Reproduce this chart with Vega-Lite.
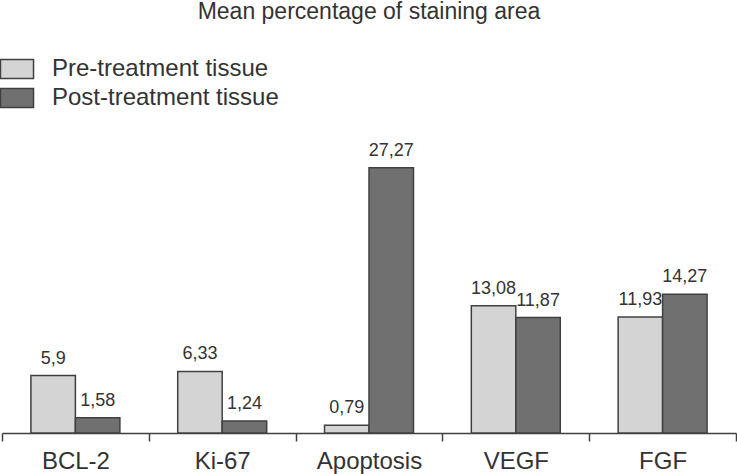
{
  "$schema": "https://vega.github.io/schema/vega-lite/v6.json",
  "width": 734,
  "height": 389,
  "autosize": {"type": "none"},
  "padding": {"left": 2, "top": 44, "right": 1, "bottom": 41},
  "background": "white",
  "config": {
    "view": {"stroke": null},
    "font": "Liberation Sans",
    "locale": {"number": {"decimal": ",", "thousands": ".", "grouping": [3], "currency": ["", ""]}}
  },
  "title": {
    "text": "Mean percentage of staining area",
    "fontSize": 23,
    "fontWeight": "normal",
    "color": "#333333",
    "anchor": "middle",
    "baseline": "alphabetic",
    "offset": 2
  },
  "data": {
    "values": [
      {"marker": "BCL-2", "group": "Pre-treatment tissue", "value": 5.9},
      {"marker": "BCL-2", "group": "Post-treatment tissue", "value": 1.58},
      {"marker": "Ki-67", "group": "Pre-treatment tissue", "value": 6.33},
      {"marker": "Ki-67", "group": "Post-treatment tissue", "value": 1.24},
      {"marker": "Apoptosis", "group": "Pre-treatment tissue", "value": 0.79},
      {"marker": "Apoptosis", "group": "Post-treatment tissue", "value": 27.27},
      {"marker": "VEGF", "group": "Pre-treatment tissue", "value": 13.08},
      {"marker": "VEGF", "group": "Post-treatment tissue", "value": 11.87},
      {"marker": "FGF", "group": "Pre-treatment tissue", "value": 11.93},
      {"marker": "FGF", "group": "Post-treatment tissue", "value": 14.27}
    ]
  },
  "encoding": {
    "x": {
      "field": "marker",
      "type": "nominal",
      "sort": ["BCL-2", "Ki-67", "Apoptosis", "VEGF", "FGF"],
      "scale": {"paddingInner": 0, "paddingOuter": 0},
      "axis": {
        "title": null,
        "labelAngle": 0,
        "labelFontSize": 24,
        "labelColor": "#333333",
        "labelBaseline": "alphabetic",
        "labelPadding": 27,
        "tickBand": "extent",
        "tickSize": 8,
        "tickColor": "#404040",
        "tickWidth": 1.5,
        "domainColor": "#404040",
        "domainWidth": 1.5
      }
    },
    "xOffset": {
      "field": "group",
      "type": "nominal",
      "sort": ["Pre-treatment tissue", "Post-treatment tissue"],
      "scale": {"paddingInner": 0, "paddingOuter": 0.65}
    },
    "y": {
      "field": "value",
      "type": "quantitative",
      "scale": {"domain": [0, 40], "nice": false},
      "axis": null
    }
  },
  "layer": [
    {
      "mark": {"type": "bar", "stroke": "#404040", "strokeWidth": 1.5},
      "encoding": {
        "color": {
          "field": "group",
          "type": "nominal",
          "sort": ["Pre-treatment tissue", "Post-treatment tissue"],
          "scale": {"domain": ["Pre-treatment tissue", "Post-treatment tissue"], "range": ["#d4d4d4", "#707070"]},
          "legend": {
            "title": null,
            "orient": "none",
            "legendX": 3,
            "legendY": 13,
            "direction": "vertical",
            "padding": 0,
            "symbolType": "M-1.74,-1H1.74V1H-1.74Z",
            "symbolSize": 361,
            "symbolStrokeColor": "#404040",
            "symbolStrokeWidth": 1.5,
            "symbolOpacity": 1,
            "labelFontSize": 24,
            "labelColor": "#333333",
            "labelOffset": 23,
            "labelLimit": 0,
            "rowPadding": 3
          }
        }
      }
    },
    {
      "mark": {"type": "text", "fontSize": 18, "color": "#333333", "baseline": "alphabetic", "dy": -12},
      "encoding": {
        "text": {"field": "value", "type": "quantitative", "format": ".2~f"}
      }
    }
  ]
}
